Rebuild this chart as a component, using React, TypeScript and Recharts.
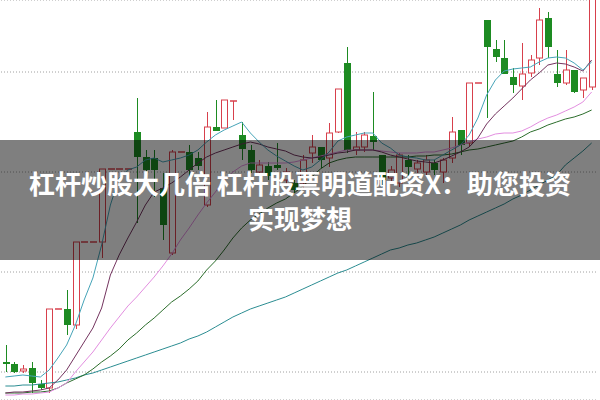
import React from "react";
import { ComposedChart, Bar, Line, XAxis, YAxis, CartesianGrid } from "recharts";

// daily candles (price scale: 1.00 per grid step)
const OPEN = [
  10.1, 10.08, 10.01, 10.04, 9.88, 9.84, 10.63, 10.63, 10.47, 11.3, 11.3, 11.3, 12.03, 12.03, 12.03, 12.4, 12.15,
  12.14, 11.84, 11.19, 12.2, 12.2, 12.14, 11.67, 12.45, 12.44, 12.71, 12.37, 12.22, 12.0, 12.06, 12.07, 11.92, 11.89,
  11.89, 12.19, 12.25, 12.14, 12.4, 13.09, 12.22, 12.25, 12.36, 12.17, 11.94, 11.89, 12.12, 12.03, 12.0, 12.09, 12.0,
  12.14, 12.42, 12.29, 12.89, 13.52, 13.23, 13.14, 12.95, 12.86, 12.99, 13.14, 13.54, 12.98, 12.89, 13.02, 12.82, 12.85,
];
const HIGH = [
  10.27, 10.1, 10.07, 10.1, 9.92, 10.63, 10.63, 10.82, 11.3, 11.3, 11.3, 12.03, 12.03, 12.03, 12.03, 12.74, 12.22,
  12.22, 11.99, 12.22, 12.2, 12.27, 12.2, 12.6, 12.72, 12.72, 12.71, 12.5, 12.27, 12.12, 12.1, 12.29, 12.04, 11.92,
  12.17, 12.37, 12.25, 12.49, 12.83, 13.25, 12.4, 12.4, 12.8, 12.17, 12.06, 12.19, 12.17, 12.12, 12.17, 12.12, 12.14,
  12.55, 12.42, 12.89, 12.89, 13.52, 13.32, 13.32, 13.04, 13.29, 13.17, 13.64, 13.6, 13.22, 13.22, 13.02, 12.94, 13.9,
];
const LOW = [
  10.0, 9.99, 9.99, 9.79, 9.82, 9.79, 10.63, 10.37, 10.43, 11.3, 11.3, 11.14, 12.03, 12.03, 12.03, 11.49, 11.87,
  11.75, 11.32, 11.17, 12.2, 11.95, 12.02, 11.65, 12.41, 12.44, 12.52, 12.12, 11.99, 11.96, 11.92, 12.02, 11.87, 11.79,
  11.84, 12.09, 12.04, 12.05, 12.39, 12.19, 12.17, 12.2, 12.22, 11.85, 11.9, 11.85, 11.95, 11.99, 11.97, 11.97, 11.89,
  12.09, 12.17, 12.25, 12.89, 12.54, 13.1, 12.98, 12.79, 12.72, 12.95, 13.07, 13.14, 12.85, 12.87, 12.79, 12.74, 12.82,
];
const CLOSE = [
  10.08, 10.0, 10.03, 9.89, 9.84, 10.63, 10.63, 10.47, 11.3, 11.3, 11.3, 12.03, 12.03, 12.03, 12.03, 12.15, 12.02,
  12.02, 11.47, 12.2, 12.2, 12.02, 12.06, 12.45, 12.41, 12.72, 12.71, 12.23, 12.02, 12.07, 11.96, 12.04, 12.0, 11.82,
  12.12, 12.25, 12.12, 12.39, 12.83, 12.22, 12.25, 12.37, 12.3, 11.92, 12.02, 12.17, 12.05, 12.09, 12.12, 12.02, 12.12,
  12.4, 12.27, 12.89, 12.89, 13.25, 13.15, 12.98, 12.87, 12.98, 13.12, 13.52, 13.25, 12.89, 13.02, 12.8, 12.94, 13.8,
];

// moving average lines
const MA5 = [
  9.95, 9.96, 9.97, 9.96, 9.95, 10.02, 10.14, 10.27, 10.47, 10.72, 10.94, 11.27, 11.67, 11.94, 12.02, 12.05, 12.12,
  12.14, 12.1, 12.12, 12.14, 12.17, 12.22, 12.3, 12.37, 12.42, 12.46, 12.5, 12.39, 12.3, 12.22, 12.16, 12.11, 12.06,
  12.02, 12.05, 12.12, 12.2, 12.31, 12.35, 12.37, 12.39, 12.39, 12.29, 12.24, 12.17, 12.15, 12.14, 12.12, 12.12, 12.17,
  12.22, 12.27, 12.37, 12.54, 12.77, 12.92, 13.01, 13.03, 13.04, 13.05, 13.1, 13.14, 13.15, 13.14, 13.09, 13.02, 13.1,
];
const MA10 = [
  9.79, 9.8, 9.8, 9.81, 9.82, 9.84, 9.92, 10.02, 10.16, 10.3, 10.44, 10.64, 10.97, 11.17, 11.34, 11.5, 11.67, 11.8,
  11.84, 11.89, 11.95, 12.02, 12.09, 12.15, 12.19, 12.22, 12.25, 12.28, 12.3, 12.28, 12.25, 12.23, 12.21, 12.17, 12.15,
  12.14, 12.15, 12.17, 12.19, 12.2, 12.22, 12.22, 12.22, 12.2, 12.17, 12.15, 12.13, 12.11, 12.1, 12.09, 12.12, 12.16,
  12.2, 12.25, 12.34, 12.48, 12.58, 12.66, 12.74, 12.83, 12.92, 12.99, 13.07, 13.09, 13.08, 13.05, 13.01, 13.12,
];
const MA20 = [
  9.77, 9.77, 9.78, 9.78, 9.79, 9.8, 9.84, 9.89, 10.0, 10.1, 10.2, 10.32, 10.44, 10.55, 10.66, 10.75, 10.85, 10.95,
  11.06, 11.18, 11.32, 11.44, 11.57, 11.69, 11.8, 11.92, 12.0, 12.06, 12.09, 12.09, 12.09, 12.09, 12.09, 12.1, 12.12,
  12.14, 12.16, 12.18, 12.2, 12.22, 12.22, 12.22, 12.22, 12.21, 12.2, 12.19, 12.19, 12.19, 12.2, 12.2, 12.22, 12.24,
  12.27, 12.3, 12.33, 12.35, 12.38, 12.39, 12.39, 12.41, 12.45, 12.5, 12.54, 12.57, 12.61, 12.65, 12.7, 12.8,
];
const MA30 = [
  9.79, 9.79, 9.79, 9.8, 9.8, 9.81, 9.84, 9.89, 9.93, 9.97, 10.03, 10.1, 10.16, 10.23, 10.32, 10.39, 10.47, 10.54,
  10.62, 10.7, 10.76, 10.83, 10.91, 11.02, 11.11, 11.22, 11.34, 11.44, 11.52, 11.58, 11.64, 11.69, 11.73, 11.79, 11.86,
  11.95, 12.03, 12.09, 12.12, 12.14, 12.15, 12.15, 12.15, 12.15, 12.15, 12.15, 12.15, 12.16, 12.16, 12.17, 12.17,
  12.18, 12.2, 12.22, 12.23, 12.25, 12.27, 12.29, 12.31, 12.35, 12.4, 12.43, 12.47, 12.5, 12.53, 12.55, 12.58, 12.62,
];
const MA60 = [
  9.86, 9.86, 9.87, 9.87, 9.88, 9.89, 9.9, 9.92, 9.94, 9.97, 9.99, 10.02, 10.05, 10.08, 10.11, 10.14, 10.17, 10.2,
  10.23, 10.26, 10.29, 10.33, 10.36, 10.4, 10.45, 10.5, 10.55, 10.59, 10.63, 10.66, 10.69, 10.72, 10.75, 10.79, 10.83,
  10.87, 10.91, 10.95, 10.99, 11.02, 11.06, 11.1, 11.14, 11.18, 11.22, 11.24, 11.27, 11.29, 11.32, 11.35, 11.39, 11.43,
  11.47, 11.52, 11.56, 11.6, 11.64, 11.68, 11.73, 11.77, 11.82, 11.87, 11.92, 11.97, 12.07, 12.14, 12.21, 12.29,
];

const GRID_TICKS = [10, 11, 12, 13];

const RED = "#d7404c";
const GREEN = "#1d8b22";

const data = OPEN.map((open, i) => ({
  day: i + 1,
  open,
  high: HIGH[i],
  low: LOW[i],
  close: CLOSE[i],
  range: [LOW[i], HIGH[i]],
  ma5: MA5[i],
  ma10: MA10[i],
  ma20: MA20[i],
  ma30: MA30[i],
  ma60: MA60[i],
}));

const Candle = (props: any) => {
  const { x, y, width, height, payload } = props;
  if (x == null || y == null) return null;
  const { open, close, high, low } = payload;
  const up = close >= open;
  const color = up ? RED : GREEN;
  const cx = Math.round(x + width / 2) + 0.5;
  const top = Math.min(y, y + height);
  const span = Math.abs(height);
  const ratio = high === low ? 0 : span / (high - low);
  const yOf = (v: number) => top + (high - v) * ratio;
  const bTop = yOf(Math.max(open, close));
  const bBot = yOf(Math.min(open, close));
  const bw = 6;
  const left = cx - bw / 2;

  if (bBot - bTop < 1) {
    return (
      <g>
        <line x1={cx} x2={cx} y1={yOf(high)} y2={yOf(low)} stroke={color} strokeWidth={1} />
        <line x1={left - 0.5} x2={left + bw + 0.5} y1={bTop} y2={bTop} stroke={color} strokeWidth={1.5} />
      </g>
    );
  }
  if (up) {
    return (
      <g>
        <line x1={cx} x2={cx} y1={yOf(high)} y2={bTop} stroke={color} strokeWidth={1} />
        <line x1={cx} x2={cx} y1={bBot} y2={yOf(low)} stroke={color} strokeWidth={1} />
        <rect x={left} y={bTop} width={bw} height={bBot - bTop} fill="#ffffff" stroke={color} strokeWidth={1} />
      </g>
    );
  }
  return (
    <g>
      <line x1={cx} x2={cx} y1={yOf(high)} y2={yOf(low)} stroke={color} strokeWidth={1} />
      <rect x={left - 0.5} y={bTop} width={bw + 1} height={bBot - bTop} fill={color} />
    </g>
  );
};

export default function App() {
  return (
    <div style={{ position: "absolute", left: 0, top: 0, width: 600, height: 400, background: "#fff" }}>
      <ComposedChart width={600} height={400} data={data} margin={{ top: 0, right: 4, bottom: 0, left: 1 }}>
        <CartesianGrid vertical={false} stroke="#a0a0a0" strokeDasharray="1 2" />
        <XAxis dataKey="day" hide />
        <YAxis hide domain={[9.72, 13.72]} ticks={GRID_TICKS} allowDataOverflow />
        <Bar dataKey="range" barSize={7} shape={(p: any) => <Candle {...p} />} isAnimationActive={false} />
        <Line dataKey="ma60" stroke="#2b8d92" strokeWidth={1} dot={false} isAnimationActive={false} />
        <Line dataKey="ma30" stroke="#2c6e2c" strokeWidth={1} dot={false} isAnimationActive={false} />
        <Line dataKey="ma20" stroke="#e38ee0" strokeWidth={1} dot={false} isAnimationActive={false} />
        <Line dataKey="ma10" stroke="#74345f" strokeWidth={1} dot={false} isAnimationActive={false} />
        <Line dataKey="ma5" stroke="#46a4b8" strokeWidth={1} dot={false} isAnimationActive={false} />
      </ComposedChart>
      <div
        style={{
          position: "absolute",
          left: 0,
          top: 140,
          width: 600,
          height: 120,
          background: "rgba(0,0,0,0.5)",
          color: "#fff",
          fontFamily: "'Noto Sans CJK SC', 'Noto Sans', sans-serif",
          fontWeight: 700,
          fontSize: 26,
          lineHeight: "35px",
          textAlign: "center",
          boxSizing: "border-box",
          paddingTop: 25,
        }}
      >
        <div>杠杆炒股大几倍 杠杆股票明道配资X：助您投资</div>
        <div>实现梦想</div>
      </div>
    </div>
  );
}
